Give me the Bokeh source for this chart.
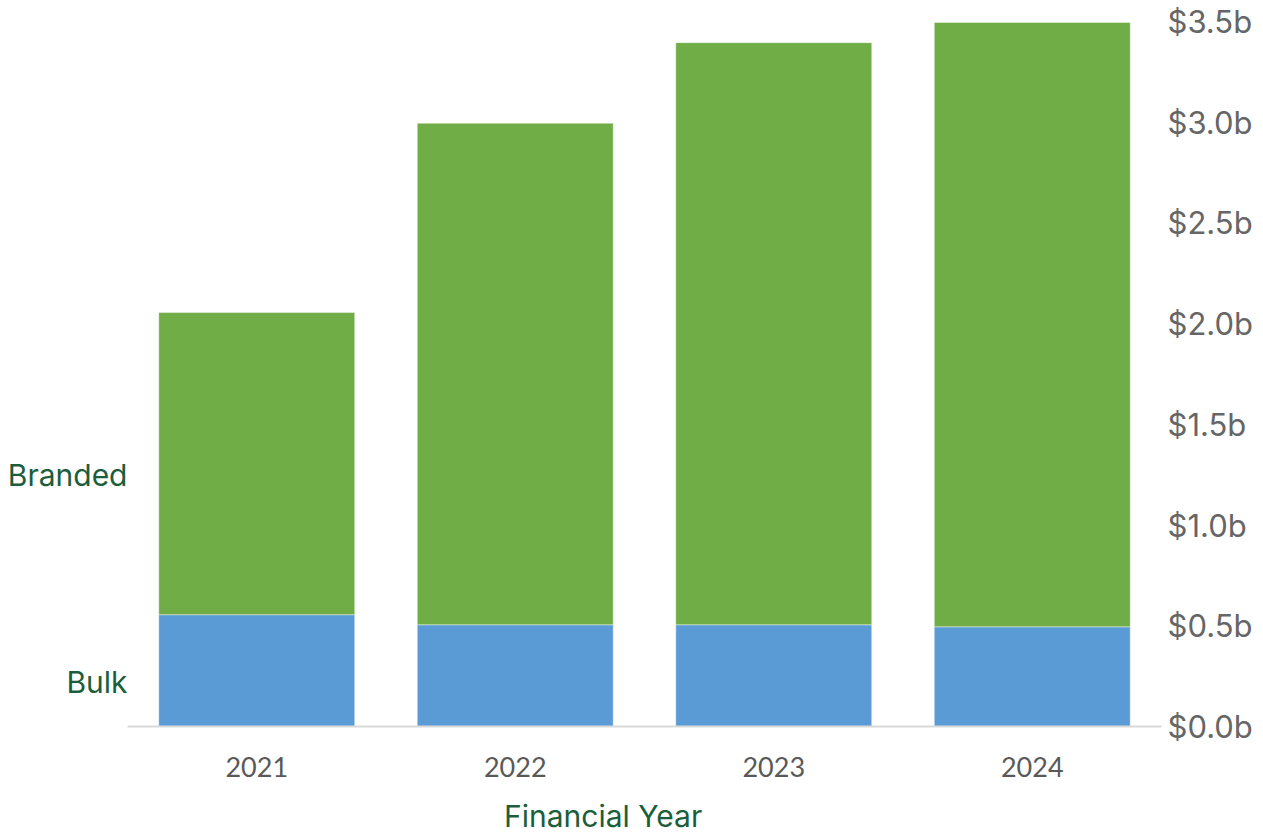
from bokeh.plotting import figure
from bokeh.models import ColumnDataSource, FactorRange, Range1d, LinearAxis, FixedTicker, PrintfTickFormatter
from bokeh.embed import file_html
from bokeh.resources import INLINE

years = ["2021", "2022", "2023", "2024"]
bulk = [0.555, 0.505, 0.505, 0.495]
branded = [1.50, 2.49, 2.89, 3.00]
y_ticks = [0.0, 0.5, 1.0, 1.5, 2.0, 2.5, 3.0, 3.5]
series = ["bulk", "branded"]
series_labels = ["Bulk", "Branded"]
colors = ["#5B9BD5", "#70AD47"]
x_title = "Financial Year"

source = ColumnDataSource(dict(year=years, bulk=bulk, branded=branded))

p = figure(
    width=1255, height=836,
    x_range=FactorRange(*years, range_padding=0),
    y_range=Range1d(0, 3.5),
    output_backend="svg", toolbar_location=None,
    min_border_left=127, min_border_right=94, min_border_top=21, min_border_bottom=109,
    y_axis_location=None,
)
p.outline_line_color = None
p.grid.visible = False
p.background_fill_color = "white"
p.border_fill_color = "white"

p.vbar_stack(series, x="year", width=0.758, color=colors, source=source,
             line_color="white", line_alpha=0.4, line_width=1)

# bottom category axis
xa = p.xaxis[0]
xa.axis_line_color = "#d9d9d9"
xa.axis_line_width = 2
xa.major_tick_line_color = None
xa.minor_tick_line_color = None
xa.major_tick_out = 0
xa.major_label_standoff = 30
xa.major_label_text_font = "Lato"
xa.major_label_text_font_size = "27px"
xa.major_label_text_color = "#595959"

# x title as a second, line-less axis row (sits a little left of the frame centre as in the source)
title_pos = 1.84
ta = LinearAxis(ticker=FixedTicker(ticks=[title_pos]), major_label_overrides={title_pos: x_title})
ta.axis_line_color = None
ta.major_tick_line_color = None
ta.minor_tick_line_color = None
ta.major_tick_out = 0
ta.major_label_standoff = 18
ta.major_label_text_font = "Inter"
ta.major_label_text_font_size = "30px"
ta.major_label_text_color = "#1b5e3b"
p.add_layout(ta, "below")

# right value axis
ya = LinearAxis(ticker=FixedTicker(ticks=y_ticks), formatter=PrintfTickFormatter(format="$%.1fb"))
ya.axis_line_color = None
ya.major_tick_line_color = None
ya.minor_tick_line_color = None
ya.major_tick_out = 0
ya.major_label_standoff = 6
ya.major_label_text_font = "Inter"
ya.major_label_text_font_size = "31px"
ya.major_label_text_color = "#666666"
p.add_layout(ya, "right")

# left series-name axis, labels beside the first bar's segments
label_shift = 0.055  # labels sit slightly below each segment's middle
mid_bulk = bulk[0] / 2 - label_shift
mid_branded = bulk[0] + branded[0] / 2 - label_shift
la = LinearAxis(ticker=FixedTicker(ticks=[mid_bulk, mid_branded]),
                major_label_overrides={mid_bulk: series_labels[0], mid_branded: series_labels[1]})
la.axis_line_color = None
la.major_tick_line_color = None
la.minor_tick_line_color = None
la.major_tick_out = 0
la.major_label_standoff = 0
la.major_label_text_font = "Inter"
la.major_label_text_font_size = "30px"
la.major_label_text_color = "#1b5e3b"
p.add_layout(la, "left")

open("out.html", "w").write(file_html(p, INLINE))
